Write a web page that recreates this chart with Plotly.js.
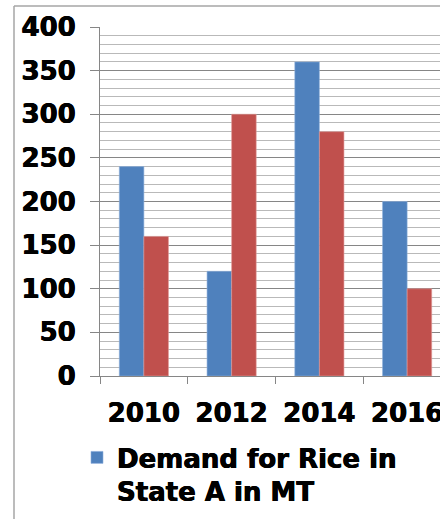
<!DOCTYPE html>
<html>
<head>
<meta charset="utf-8">
<script src="https://cdn.plot.ly/plotly-3.0.1.min.js"></script>
<style>
html,body{margin:0;padding:0;overflow:hidden;background:#fff;}
#chart{width:460px;height:519px;}
</style>
</head>
<body>
<div id="chart"></div>
<script>
const years = ['2010', '2012', '2014', '2016'];
const demandA = [240, 120, 360, 200];
const seriesB = [160, 300, 280, 100];
const legendName = 'Demand for Rice in<br>State A in MT';

const W = 460, H = 519;
const L = 100, T = 27, R = 9, B = 143;
const pw = W - L - R, ph = H - T - B;
const px = v => (v - L) / pw;
const py = v => (H - B - v) / ph;

const boldFont = size => ({family: 'DejaVu Sans', size: size, weight: 700, color: '#000',
  shadow: '0.4px 0 0 #000, -0.4px 0 0 #000'});

const traces = [
  {type: 'bar', x: years, y: demandA, name: legendName,
   marker: {color: '#4f81bd', line: {color: '#8fb0dc', width: 0.6}}, showlegend: true},
  {type: 'bar', x: years, y: seriesB, name: 'Series 2',
   marker: {color: '#c0504d', line: {color: '#e09b99', width: 0.6}}, showlegend: false}
];

const layout = {
  width: W, height: H,
  margin: {l: L, r: R, t: T, b: B, pad: 0, autoexpand: false},
  paper_bgcolor: '#fff', plot_bgcolor: '#fff',
  barmode: 'group', bargap: 0.44, bargroupgap: 0,
  font: {family: 'DejaVu Sans', color: '#000'},
  xaxis: {
    type: 'category', showgrid: false, showline: true, linecolor: '#868686', linewidth: 1,
    ticks: 'outside', tickson: 'boundaries', ticklen: 7, tickcolor: '#868686', tickwidth: 1,
    tickfont: boldFont(26), automargin: false,
    ticklabelstandoff: 14, fixedrange: true
  },
  yaxis: {
    range: [0, 400], dtick: 50, tick0: 0, showline: true, linecolor: '#868686', linewidth: 1,
    ticks: 'outside', ticklen: 9, tickcolor: '#868686', tickwidth: 1,
    showgrid: true, gridcolor: '#868686', gridwidth: 1,
    minor: {dtick: 10, showgrid: true, gridcolor: '#b9b9b9', gridwidth: 1},
    zeroline: false, automargin: false,
    tickfont: boldFont(26),
    ticklabelstandoff: 9, fixedrange: true
  },
  showlegend: true,
  legend: {
    xref: 'container', yref: 'container',
    x: 77 / W, y: 1 - 434 / H, xanchor: 'left', yanchor: 'top', valign: 'top',
    font: boldFont(26),
    bgcolor: 'rgba(0,0,0,0)', tracegroupgap: 0, itemwidth: 30
  },
  shapes: [
    {type: 'line', xref: 'paper', yref: 'paper', x0: px(14), x1: px(14), y0: py(6), y1: py(525),
     line: {color: '#a6a6a6', width: 1.5}},
    {type: 'line', xref: 'paper', yref: 'paper', x0: px(14), x1: px(470), y0: py(6), y1: py(6),
     line: {color: '#a6a6a6', width: 1.5}}
  ]
};

Plotly.newPlot('chart', traces, layout, {displayModeBar: false, staticPlot: true});
</script>
</body>
</html>
